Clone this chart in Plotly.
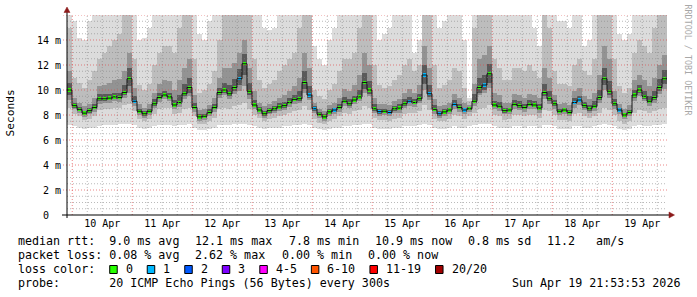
import plotly.graph_objects as go
from datetime import datetime, timedelta

# ---------------- data ----------------
end_time = datetime(2026, 4, 19, 21, 53, 53)
step_hours = 2  # one value per 2 hours, 120 steps = 10 days

median_ms = [
    10.0, 8.75, 8.45, 8.15, 8.35, 8.6, 9.3, 9.3, 9.35, 9.45, 9.4, 9.8,
    10.9, 9.1, 8.3, 8.1, 8.3, 8.9, 9.4, 9.6, 9.45, 8.8, 9.0, 9.7,
    10.2, 8.6, 7.85, 7.9, 8.2, 8.6, 9.8, 10.0, 9.7, 10.2, 10.9, 12.1,
    9.9, 8.8, 8.4, 8.1, 8.35, 8.5, 8.65, 8.75, 9.0, 9.25, 9.3, 10.6,
    9.6, 8.5, 8.05, 7.85, 8.25, 8.4, 8.6, 9.1, 8.9, 9.2, 9.45, 10.6,
    10.0, 8.5, 8.27, 8.3, 8.2, 8.5, 8.55, 8.9, 9.1, 9.0, 9.3, 11.2,
    9.7, 8.45, 8.1, 8.25, 8.4, 8.85, 8.6, 8.4, 8.5, 9.1, 10.2, 10.4,
    11.3, 8.8, 8.7, 8.35, 8.4, 8.85, 8.75, 8.6, 8.85, 8.8, 8.55, 9.8,
    9.3, 8.9, 8.3, 8.4, 8.2, 9.0, 9.2, 8.75, 8.5, 8.7, 9.4, 10.9,
    9.9, 8.9, 8.4, 8.0, 8.2, 9.6, 10.0, 9.5, 9.1, 9.4, 10.2, 10.9,
]

loss_pings = [
    0, 0, 0, 0, 0, 0, 0, 0, 0, 0, 0, 0,
    0, 1, 0, 0, 0, 0, 0, 0, 0, 0, 0, 0,
    0, 0, 0, 0, 0, 0, 0, 0, 0, 0, 1, 0,
    0, 0, 0, 0, 0, 0, 0, 0, 0, 0, 0, 0,
    1, 1, 0, 0, 0, 1, 0, 0, 0, 0, 0, 0,
    0, 0, 1, 0, 1, 0, 0, 0, 1, 0, 0, 1,
    1, 0, 1, 0, 0, 1, 0, 1, 0, 0, 0, 1,
    0, 0, 0, 0, 0, 0, 0, 0, 0, 0, 0, 0,
    0, 0, 0, 0, 0, 1, 1, 0, 0, 0, 0, 0,
    0, 0, 1, 0, 0, 0, 0, 0, 0, 0, 0, 0,
]

ping_min = [
    7.2, 7.1, 7.0, 6.9, 7.0, 7.0, 7.1, 7.2, 7.2, 7.2, 7.3, 7.3,
    7.3, 7.2, 7.0, 6.9, 7.0, 7.1, 7.2, 7.2, 7.2, 7.1, 7.2, 7.2,
    7.3, 7.0, 6.8, 6.8, 6.9, 7.0, 7.2, 7.2, 7.2, 7.3, 7.3, 7.3,
    7.2, 7.1, 7.0, 6.9, 7.0, 7.0, 7.0, 7.1, 7.1, 7.2, 7.2, 7.3,
    7.2, 7.0, 6.9, 6.8, 6.9, 7.0, 7.0, 7.1, 7.1, 7.2, 7.2, 7.3,
    7.3, 7.0, 6.9, 6.9, 6.9, 7.0, 7.0, 7.1, 7.1, 7.1, 7.2, 7.3,
    7.2, 7.0, 6.9, 6.9, 7.0, 7.1, 7.0, 7.0, 7.1, 7.2, 7.3, 7.3,
    7.3, 7.1, 7.0, 7.0, 7.0, 7.1, 7.1, 7.0, 7.1, 7.1, 7.0, 7.2,
    7.2, 7.1, 6.9, 6.9, 6.9, 7.1, 7.1, 7.0, 7.0, 7.1, 7.2, 7.3,
    7.2, 7.1, 6.9, 6.8, 6.9, 7.1, 7.2, 7.1, 7.1, 7.2, 7.2, 7.3,
]

ping_q10 = [
    8.6, 8.1, 7.9, 7.6, 7.7, 7.9, 8.4, 8.5, 8.5, 8.6, 8.6, 8.8,
    8.9, 8.3, 7.7, 7.5, 7.7, 8.1, 8.5, 8.6, 8.6, 8.1, 8.2, 8.5,
    8.6, 7.9, 7.3, 7.3, 7.5, 7.8, 8.5, 8.6, 8.5, 8.7, 8.8, 9.0,
    8.5, 8.0, 7.8, 7.5, 7.7, 7.8, 7.9, 8.0, 8.2, 8.3, 8.4, 8.7,
    8.4, 7.7, 7.4, 7.3, 7.5, 7.7, 7.9, 8.2, 8.1, 8.3, 8.4, 8.7,
    8.6, 7.8, 7.6, 7.6, 7.5, 7.7, 7.8, 8.1, 8.2, 8.2, 8.3, 8.8,
    8.4, 7.7, 7.5, 7.5, 7.7, 8.0, 7.9, 7.7, 7.9, 8.2, 8.5, 8.6,
    8.8, 8.0, 7.9, 7.6, 7.7, 8.0, 8.0, 7.9, 8.0, 8.0, 7.8, 8.4,
    8.3, 8.0, 7.6, 7.6, 7.5, 8.1, 8.2, 7.9, 7.8, 7.9, 8.2, 8.6,
    8.4, 8.0, 7.5, 7.3, 7.5, 8.2, 8.4, 8.3, 8.2, 8.3, 8.5, 8.6,
]

ping_q25 = [
    9.2, 8.45, 8.15, 7.85, 8.05, 8.25, 8.9, 8.95, 9.0, 9.1, 9.05, 9.4,
    9.8, 8.75, 8.0, 7.8, 8.0, 8.55, 9.05, 9.25, 9.1, 8.45, 8.65, 9.3,
    9.5, 8.25, 7.55, 7.6, 7.9, 8.25, 9.4, 9.6, 9.3, 9.7, 9.9, 10.3,
    9.3, 8.45, 8.1, 7.8, 8.05, 8.2, 8.3, 8.4, 8.65, 8.9, 8.95, 9.8,
    9.2, 8.15, 7.75, 7.55, 7.95, 8.1, 8.25, 8.75, 8.55, 8.85, 9.1, 9.8,
    9.5, 8.15, 7.95, 8.0, 7.9, 8.15, 8.2, 8.55, 8.75, 8.65, 8.95, 10.0,
    9.2, 8.1, 7.8, 7.95, 8.1, 8.5, 8.25, 8.1, 8.25, 8.75, 9.6, 9.8,
    10.2, 8.45, 8.35, 8.05, 8.1, 8.5, 8.4, 8.25, 8.5, 8.45, 8.2, 9.3,
    8.9, 8.5, 8.0, 8.1, 7.9, 8.6, 8.8, 8.4, 8.15, 8.35, 9.0, 10.0,
    9.4, 8.5, 8.05, 7.7, 7.9, 9.1, 9.5, 9.1, 8.75, 9.0, 9.7, 10.1,
]

ping_q40 = [
    9.6, 8.6, 8.3, 8.0, 8.2, 8.45, 9.1, 9.15, 9.2, 9.3, 9.25, 9.6,
    10.3, 8.95, 8.15, 7.95, 8.15, 8.75, 9.25, 9.45, 9.3, 8.65, 8.85, 9.5,
    9.8, 8.45, 7.7, 7.75, 8.05, 8.45, 9.6, 9.8, 9.5, 9.95, 10.4, 11.2,
    9.6, 8.65, 8.25, 7.95, 8.2, 8.35, 8.5, 8.6, 8.85, 9.1, 9.15, 10.1,
    9.4, 8.35, 7.9, 7.7, 8.1, 8.25, 8.45, 8.95, 8.75, 9.05, 9.3, 10.1,
    9.7, 8.35, 8.1, 8.15, 8.05, 8.35, 8.4, 8.75, 8.95, 8.85, 9.15, 10.5,
    9.45, 8.3, 7.95, 8.1, 8.25, 8.7, 8.45, 8.25, 8.4, 8.95, 9.8, 10.0,
    10.6, 8.65, 8.55, 8.2, 8.25, 8.7, 8.6, 8.45, 8.7, 8.65, 8.4, 9.5,
    9.1, 8.75, 8.15, 8.25, 8.05, 8.85, 9.05, 8.6, 8.35, 8.55, 9.2, 10.4,
    9.6, 8.75, 8.25, 7.85, 8.05, 9.4, 9.8, 9.3, 8.95, 9.2, 9.9, 10.5,
]

ping_q60 = [
    10.6, 9.0, 8.65, 8.35, 8.55, 8.9, 9.65, 9.65, 9.7, 9.8, 9.8, 10.4,
    11.8, 9.5, 8.5, 8.3, 8.5, 9.25, 9.75, 9.95, 9.8, 9.2, 9.6, 10.5,
    11.0, 8.95, 8.05, 8.1, 8.45, 8.9, 10.2, 10.6, 10.4, 10.9, 11.7, 12.9,
    10.6, 9.2, 8.65, 8.3, 8.55, 8.7, 8.95, 9.05, 9.35, 9.6, 9.9, 11.5,
    10.3, 8.7, 8.25, 8.05, 8.45, 8.6, 8.9, 9.45, 9.25, 9.55, 10.0, 11.4,
    10.7, 8.85, 8.5, 8.5, 8.4, 8.7, 8.85, 9.25, 9.45, 9.3, 9.65, 12.0,
    10.4, 8.8, 8.3, 8.45, 8.6, 9.2, 8.9, 8.6, 8.65, 9.7, 11.0, 11.2,
    12.1, 9.15, 9.05, 8.55, 8.6, 9.2, 9.1, 8.9, 9.2, 9.1, 8.85, 10.5,
    9.9, 9.2, 8.5, 8.6, 8.4, 9.35, 9.55, 9.05, 8.8, 9.1, 10.0, 11.8,
    10.7, 9.3, 8.6, 8.2, 8.4, 10.0, 10.4, 9.9, 9.5, 9.9, 10.9, 11.6,
]

ping_q75 = [
    11.5, 9.4, 9.0, 8.7, 8.9, 9.4, 10.3, 10.4, 10.6, 10.8, 10.9, 11.5,
    13.0, 10.2, 8.9, 8.6, 8.9, 9.8, 10.5, 10.8, 10.7, 10.0, 10.8, 11.8,
    12.5, 9.6, 8.4, 8.5, 8.8, 9.4, 11.0, 11.8, 11.8, 12.2, 13.0, 14.0,
    11.8, 9.9, 9.0, 8.7, 8.9, 9.1, 9.4, 9.6, 9.9, 10.3, 11.0, 13.0,
    11.8, 9.0, 8.5, 8.3, 8.8, 9.0, 9.4, 10.1, 9.9, 10.4, 11.2, 13.0,
    12.0, 9.4, 8.9, 8.9, 8.8, 9.1, 9.3, 9.8, 10.1, 9.8, 10.4, 13.5,
    11.8, 9.3, 8.7, 8.8, 9.0, 9.7, 9.4, 9.0, 8.8, 10.5, 12.5, 12.8,
    13.5, 9.8, 9.6, 9.0, 9.0, 9.7, 9.6, 9.4, 9.7, 9.6, 9.4, 11.8,
    11.0, 9.6, 8.9, 9.0, 8.8, 9.9, 10.2, 9.5, 9.3, 9.8, 11.2, 13.5,
    12.5, 9.9, 8.9, 8.5, 8.8, 10.8, 11.2, 10.8, 10.3, 11.0, 12.0, 12.8,
]

ping_q90 = [
    15.0, 11.0, 10.6, 10.2, 10.8, 11.5, 12.5, 13.0, 13.5, 14.0, 14.5, 16.0,
    17.0, 12.5, 10.4, 10.0, 10.5, 12.0, 13.0, 13.5, 13.5, 13.0, 15.0, 17.0,
    17.0, 12.5, 9.8, 10.0, 10.5, 11.5, 14.0, 16.0, 17.0, 17.0, 17.0, 17.0,
    16.0, 12.5, 10.8, 10.2, 10.5, 10.8, 11.5, 12.0, 12.5, 13.0, 15.0, 17.0,
    17.0, 10.0, 9.5, 9.3, 10.0, 10.5, 11.5, 12.5, 12.5, 13.0, 15.0, 17.0,
    17.0, 12.0, 10.4, 10.2, 10.3, 10.8, 11.2, 12.0, 12.5, 11.5, 12.0, 17.0,
    17.0, 12.0, 10.2, 10.4, 10.8, 11.8, 11.5, 10.2, 9.1, 15.0, 17.0, 17.0,
    17.0, 12.5, 11.8, 10.8, 10.8, 11.8, 11.8, 11.5, 12.0, 11.5, 11.0, 16.0,
    15.0, 11.5, 10.5, 10.5, 10.3, 12.0, 12.5, 11.5, 11.2, 12.5, 16.0, 17.0,
    17.0, 12.5, 10.3, 9.8, 10.2, 13.0, 14.0, 13.5, 13.0, 15.0, 17.0, 17.0,
]

ping_max = [
    17.0, 15.5, 14.2, 14.0, 15.5, 16.5, 17.0, 17.0, 17.0, 17.0, 17.0, 17.0,
    17.0, 16.0, 14.0, 14.2, 15.0, 17.0, 17.0, 17.0, 17.0, 17.0, 17.0, 17.0,
    17.0, 17.0, 14.5, 14.0, 15.5, 17.0, 17.0, 17.0, 17.0, 17.0, 17.0, 17.0,
    17.0, 17.0, 16.0, 15.0, 14.8, 15.0, 16.5, 17.0, 17.0, 17.0, 17.0, 17.0,
    17.0, 13.5, 12.5, 12.0, 14.0, 15.0, 17.0, 17.0, 17.0, 17.0, 17.0, 17.0,
    17.0, 17.0, 14.0, 14.5, 15.0, 16.0, 17.0, 17.0, 17.0, 13.0, 14.0, 17.0,
    17.0, 17.0, 15.0, 15.5, 16.0, 17.0, 17.0, 14.0, 9.4, 17.0, 17.0, 17.0,
    17.0, 17.0, 17.0, 16.0, 16.0, 17.0, 17.0, 16.5, 17.0, 15.0, 13.5, 17.0,
    17.0, 16.0, 15.5, 15.5, 15.0, 17.0, 17.0, 13.5, 14.0, 17.0, 17.0, 17.0,
    17.0, 17.0, 14.5, 14.0, 14.5, 17.0, 17.0, 17.0, 17.0, 17.0, 17.0, 17.0,
]

day_labels = ["10 Apr", "11 Apr", "12 Apr", "13 Apr", "14 Apr",
              "15 Apr", "16 Apr", "17 Apr", "18 Apr", "19 Apr"]
y_tick_values = [0, 2, 4, 6, 8, 10, 12, 14]
y_tick_labels = ["0\u00a0\u00a0", "2 m", "4 m", "6 m", "8 m", "10 m", "12 m", "14 m"]

loss_bucket_labels = ["0", "1", "2", "3", "4-5", "6-10", "11-19", "20/20"]
loss_bucket_upper = [0, 1, 2, 3, 5, 10, 19, 20]
loss_bucket_colors = ["#26ff00", "#00b8ff", "#0059ff", "#7e00ff",
                      "#ff00ff", "#ff5500", "#ff0000", "#a10000"]

row_rtt = ["median rtt:  9.0 ms avg", "12.1 ms max", "7.8 ms min",
           "10.9 ms now", "0.8 ms sd", "11.2   am/s"]
row_loss = ["packet loss: 0.08 % avg", "2.62 % max", "0.00 % min", "0.00 % now"]
probe_text = "probe:       20 ICMP Echo Pings (56 Bytes) every 300s"
stamp_text = "Sun Apr 19 21:53:53 2026"
watermark = "RRDTOOL / TOBI OETIKER"

# ---------------- geometry ----------------
W, H = 697, 297
L, R, T, B = 67, 667, 15, 215
Y_MAX = 16
MONO = "DejaVu Sans Mono"
CHAR_W = 7.02
LEG_FS = 11.66
GAP = 16


def px(x):
    return (x - L) / (R - L)


def py(y):
    return (B - y) / (B - T)


def nb(s):
    return s.replace(" ", "\u00a0")


n = len(median_ms)
step = timedelta(hours=step_hours)
start_time = end_time - n * step
centers = [start_time + step * (k + 0.5) for k in range(n)]
starts = [start_time + step * k for k in range(n)]
width_ms = step_hours * 3600 * 1000

fig = go.Figure()

# smoke layers: outer (light) to inner (dark)
layers = [
    (ping_min, ping_max, "#dcdcdc"),
    (ping_q10, ping_q90, "#bdbdbd"),
    (ping_q25, ping_q75, "#939393"),
    (ping_q40, ping_q60, "#5a5a5a"),
]
for lo, hi, col in layers:
    fig.add_trace(go.Bar(
        x=centers, base=lo, y=[h - l for l, h in zip(lo, hi)],
        width=width_ms, marker=dict(color=col, line=dict(width=0)),
        hoverinfo="skip", showlegend=False))

# median connector line
fig.add_trace(go.Scatter(
    x=starts + [end_time], y=median_ms + [median_ms[-1]],
    mode="lines", line=dict(color="#141414", width=1, shape="hv"),
    hoverinfo="skip", showlegend=False))


def bucket(v):
    for i, up in enumerate(loss_bucket_upper):
        if v <= up:
            return i
    return len(loss_bucket_upper) - 1


mark_h = 0.27
fig.add_trace(go.Bar(
    x=centers, base=[m - mark_h / 2 for m in median_ms], y=[mark_h] * n,
    width=width_ms * 0.72,
    marker=dict(color=[loss_bucket_colors[bucket(v)] for v in loss_pings],
                line=dict(width=0)),
    hoverinfo="skip", showlegend=False))

shapes = []
GRID_MAJOR = "rgba(225,70,70,0.65)"
GRID_MINOR = "rgba(130,130,130,0.55)"
# grid (drawn above the graph like rrdtool)
first_day = datetime(2026, 4, 10)
t = first_day
while t < end_time:
    major = t.hour == 0
    shapes.append(dict(type="line", xref="x", yref="paper", x0=t, x1=t, y0=0, y1=1,
                       line=dict(color=GRID_MAJOR if major else GRID_MINOR,
                                 width=1, dash="1px,2px"), layer="above"))
    t += timedelta(hours=6)
v = 0.5
while v <= Y_MAX + 1e-9:
    major = abs(v / 2 - round(v / 2)) < 1e-9
    shapes.append(dict(type="line", xref="paper", yref="y", x0=px(63) if major else 0, x1=1, y0=v, y1=v,
                       line=dict(color=GRID_MAJOR if major else GRID_MINOR,
                                 width=1, dash="1px,2px"), layer="above"))
    v += 0.5

# axes lines and arrows
shapes.append(dict(type="line", xref="paper", yref="paper", x0=px(62), x1=px(670),
                   y0=py(215), y1=py(215), line=dict(color="black", width=1), layer="above"))
shapes.append(dict(type="line", xref="paper", yref="paper", x0=px(67), x1=px(67),
                   y0=py(218), y1=py(11), line=dict(color="black", width=1), layer="above"))


def tri(points, color):
    d = "M " + " L ".join(f"{px(a)},{py(b)}" for a, b in points) + " Z"
    return dict(type="path", xref="paper", yref="paper", path=d,
                fillcolor=color, line=dict(color=color, width=0.5), layer="above")


shapes.append(tri([(669, 212), (674.5, 215), (669, 218)], "#8c1a1a"))
shapes.append(tri([(64, 12.5), (67, 7), (70, 12.5)], "#8c1a1a"))

annotations = []


def txt(x, y, s, size=LEG_FS, color="black", angle=0, xanchor="left"):
    annotations.append(dict(xref="paper", yref="paper", x=px(x), y=py(y), text=nb(s),
                            showarrow=False, xanchor=xanchor, yanchor="middle", textangle=angle,
                            font=dict(family=MONO, size=size, color=color)))


# legend rows
xpos = 16
for s in row_rtt:
    txt(xpos, 241, s)
    xpos += len(s) * CHAR_W + GAP
xpos = 16
for s in row_loss:
    txt(xpos, 255, s)
    xpos += len(s) * CHAR_W + GAP

txt(16, 269, "loss color:")
xpos = 16 + len("loss color:") * CHAR_W + GAP
for lab, col in zip(loss_bucket_labels, loss_bucket_colors):
    shapes.append(dict(type="rect", xref="paper", yref="paper",
                       x0=px(xpos + 0.5), x1=px(xpos + 8), y0=py(273.5), y1=py(265.5),
                       fillcolor=col, line=dict(color="black", width=1)))
    txt(xpos + 14.5, 269, lab)
    xpos += 14.5 + len(lab) * CHAR_W + GAP

txt(16, 283, probe_text)
txt(681.5, 283, stamp_text, xanchor="right")

txt(10, 113.5, "Seconds", size=11.2, angle=-90, xanchor="center")
txt(687.5, 60, watermark, size=8.4, color="#a8a8a8", angle=90, xanchor="center")

fig.update_layout(
    width=W, height=H,
    margin=dict(l=L, r=W - R, t=T, b=H - B, pad=0),
    paper_bgcolor="white", plot_bgcolor="white",
    barmode="overlay", bargap=0,
    showlegend=False,
    shapes=shapes, annotations=annotations,
    xaxis=dict(type="date", range=[start_time, end_time], showgrid=False, zeroline=False,
               showline=False, ticks="",
               tickvals=[first_day + timedelta(days=i, hours=12) for i in range(len(day_labels))],
               ticktext=day_labels, tickangle=0,
               tickfont=dict(family=MONO, size=10, color="black"), ticklabelstandoff=1),
    yaxis=dict(range=[0, Y_MAX], showgrid=False, zeroline=False, showline=False, ticks="",
               tickvals=y_tick_values, ticktext=y_tick_labels,
               tickfont=dict(family=MONO, size=10, color="black"), ticklabelstandoff=5),
)

fig.write_html("out.html")
